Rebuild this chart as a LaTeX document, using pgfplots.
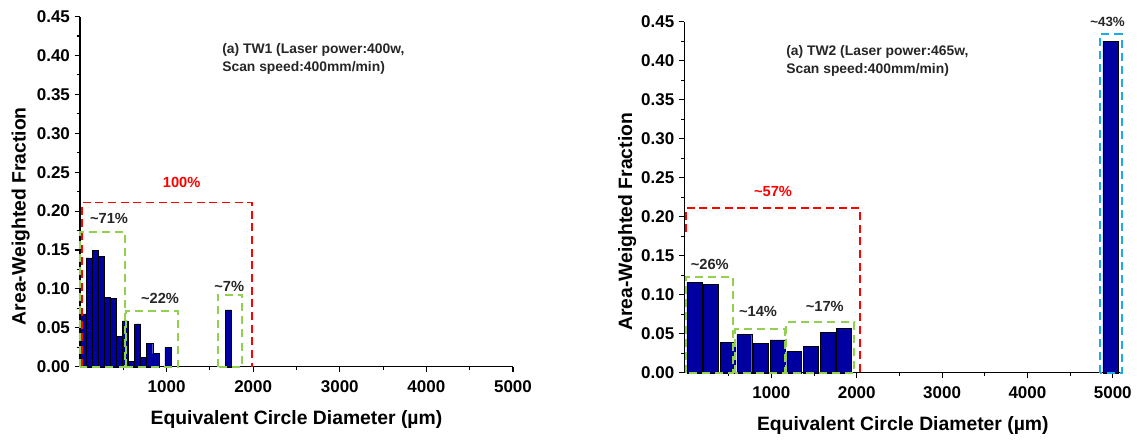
\documentclass[border=0pt]{standalone}
\usepackage{fontspec}
\setmainfont{Liberation Sans}
\usepackage{pgfplots}
\pgfplotsset{compat=1.18}
\definecolor{barblue}{RGB}{0,0,160}
\definecolor{boxgreen}{RGB}{146,208,80}
\definecolor{boxblue}{RGB}{30,170,230}
\definecolor{boxred}{RGB}{255,0,0}
\tikzset{
  gbox/.style={color=boxgreen, line width=1.5pt, dash pattern=on 6pt off 3.8pt, line join=miter},
  rbox/.style={color=boxred, line width=1.4pt, dash pattern=on 6pt off 3.5pt, line join=miter},
  bbox/.style={color=boxblue, line width=1.5pt, dash pattern=on 6pt off 3.8pt, line join=miter},
  pct/.style={font=\fontsize{11}{12}\selectfont\bfseries, text=black!85},
}
\pgfplotsset{
  myaxis/.style={
    scale only axis,
    axis lines=left,
    axis line style={line width=0.9pt,-},
    ymin=0, ymax=0.45,
    ytick={0,0.05,0.10,0.15,0.20,0.25,0.30,0.35,0.40,0.45},
    minor y tick num=1,
    xtick={1000,2000,3000,4000,5000},
    minor xtick={500,1500,2500,3500,4500},
    tick align=outside,
    major tick length=4pt, minor tick length=2.5pt,
    tick style={black, line width=0.8pt},
    /pgf/number format/assume math mode=true,
    yticklabel style={/pgf/number format/.cd, fixed, fixed zerofill, precision=2},
    xticklabel style={yshift=-3pt, /pgf/number format/.cd, set thousands separator={}},
    ticklabel style={font=\fontsize{12.75}{14}\selectfont\bfseries},
    label style={font=\fontsize{14.5}{16}\selectfont\bfseries},
    xlabel={Equivalent Circle Diameter (µm)},
    ylabel={Area-Weighted Fraction},
    xlabel style={at={(axis description cs:0.5,-0.15)}, anchor=center},
    scaled y ticks=false,
    clip=false,
  },
}
\begin{document}
\begin{tikzpicture}
\useasboundingbox (0,0) rectangle (852.75pt,329.25pt);
% ---------- left panel ----------
\begin{axis}[myaxis, at={(60pt,54.2pt)}, anchor=origin,
  width=324.75pt, height=262.65pt, xmin=0, xmax=5000,
  ylabel style={at={(axis description cs:-0.137,0.43)}, anchor=center}]
\addplot[ybar, bar width=70, bar shift=0pt, fill=barblue, draw=black, line width=0.3pt]
coordinates {
(35,0.068) (105,0.140) (175,0.150) (245,0.142) (315,0.089) (385,0.088)
(455,0.039) (525,0.059) (595,0.007) (665,0.055) (735,0.012) (805,0.030)
(875,0.017) (1015,0.025) (1715,0.073)
};
\addplot[rbox] coordinates {(25,0) (25,0.211) (1983,0.211) (1983,0)};
\addplot[gbox] coordinates {(0,0) (0,0.1735) (520,0.1735) (520,0) (0,0)};
\addplot[gbox] coordinates {(527,0) (527,0.072) (1127,0.072) (1127,0) (527,0)};
\addplot[gbox] coordinates {(1595,0) (1595,0.0925) (1872,0.0925) (1872,0) (1595,0)};
\node[pct] at (axis cs:335,0.191) {\textasciitilde 71\%};
\node[pct] at (axis cs:924,0.088) {\textasciitilde 22\%};
\node[pct] at (axis cs:1724,0.1037) {\textasciitilde 7\%};
\node[pct, text=boxred] at (axis cs:1174,0.2365) {100\%};
\node[anchor=west, align=left, inner sep=0pt, font=\fontsize{10.4}{13.5}\selectfont\bfseries, text=black!85]
  at (axis cs:1640,0.3955) {(a) TW1 (Laser power:400w,\\Scan speed:400mm/min)};
\end{axis}
% ---------- right panel ----------
\begin{axis}[myaxis, at={(514.5pt,49.7pt)}, anchor=origin,
  width=327.75pt, height=263.25pt, xmin=-20, xmax=5100,
  ylabel style={at={(axis description cs:-0.131,0.43)}, anchor=center}]
\addplot[ybar, bar width=175, bar shift=0pt, fill=barblue, draw=black, line width=0.3pt]
coordinates {
(97.5,0.116) (292.5,0.113) (487.5,0.039) (682.5,0.049) (877.5,0.038)
(1072.5,0.042) (1267.5,0.027) (1462.5,0.034) (1657.5,0.052) (1852.5,0.057)
(4972.5,0.425)
};
\addplot[rbox] coordinates {(0,0.18) (0,0.2115) (2036,0.2115) (2036,0)};
\addplot[gbox] coordinates {(0,0) (0,0.1227) (551,0.1227) (551,0) (0,0)};
\addplot[gbox] coordinates {(578,0) (578,0.0556) (1157,0.0556) (1157,0) (578,0)};
\addplot[gbox] coordinates {(1176,0) (1176,0.0646) (1970,0.0646) (1970,0) (1176,0)};
\addplot[bbox] coordinates {(4850,0) (4850,0.434) (5103,0.434) (5103,0) (4850,0)};
\node[pct] at (axis cs:278,0.139) {\textasciitilde 26\%};
\node[pct] at (axis cs:844,0.078) {\textasciitilde 14\%};
\node[pct] at (axis cs:1626,0.0855) {\textasciitilde 17\%};
\node[pct, text=boxred] at (axis cs:1020,0.233) {\textasciitilde 57\%};
\node[pct, font=\fontsize{10}{12}\selectfont\bfseries] at (axis cs:4939,0.45) {\textasciitilde 43\%};
\node[anchor=west, align=left, inner sep=0pt, font=\fontsize{10.4}{13.5}\selectfont\bfseries, text=black!85]
  at (axis cs:1172,0.400) {(a) TW2 (Laser power:465w,\\Scan speed:400mm/min)};
\end{axis}
\end{tikzpicture}
\end{document}
